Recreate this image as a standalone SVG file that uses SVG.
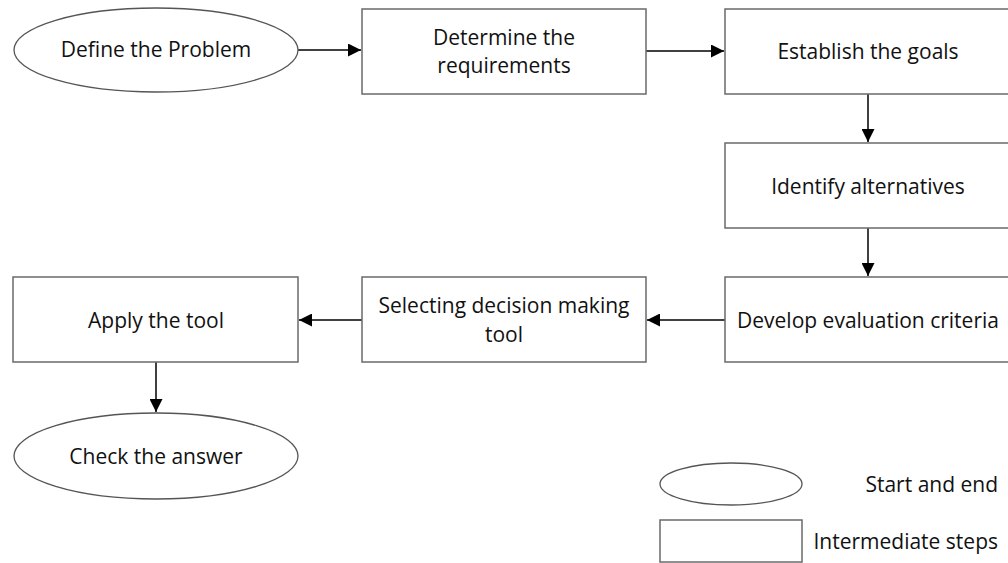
<svg xmlns="http://www.w3.org/2000/svg" width="1008" height="563" viewBox="0 0 1008 563">
<defs>
<marker id="arr" viewBox="0 0 10 10" refX="10" refY="5" markerWidth="13" markerHeight="13" markerUnits="userSpaceOnUse" orient="auto"><path d="M0,0 L10,5 L0,10 z" fill="#000"/></marker>
</defs>
<style>
.n{fill:#fff;stroke:#6a6a6a;stroke-width:1.5}
.e{fill:#fff;stroke:#555;stroke-width:1.3}
.t{font-family:"Open Sans","Liberation Sans",sans-serif;font-size:21px;fill:#111;text-anchor:middle;dominant-baseline:central}
.r{text-anchor:end}
.c{stroke:#000;stroke-width:1.5;fill:none;marker-end:url(#arr)}
</style>
<rect width="1008" height="563" fill="#fff"/>
<g id="connectors">
<line class="c" x1="298" y1="50" x2="361" y2="50"/>
<line class="c" x1="646" y1="51" x2="724" y2="51"/>
<line class="c" x1="868" y1="94" x2="868" y2="142"/>
<line class="c" x1="868" y1="228" x2="868" y2="276"/>
<line class="c" x1="725" y1="320" x2="647" y2="320"/>
<line class="c" x1="362" y1="320" x2="299" y2="320"/>
<line class="c" x1="156" y1="362" x2="156" y2="412"/>
</g>
<g id="define"><ellipse class="e" cx="156" cy="50" rx="142" ry="42"/><text class="t" x="156" y="49">Define the Problem</text></g>
<g id="determine"><rect class="n" x="362" y="9" width="284" height="85"/><text class="t" x="504" y="37">Determine the</text><text class="t" x="504" y="65">requirements</text></g>
<g id="establish"><rect class="n" x="725" y="9" width="290" height="85"/><text class="t" x="868" y="51">Establish the goals</text></g>
<g id="identify"><rect class="n" x="725" y="143" width="290" height="85"/><text class="t" x="868" y="186">Identify alternatives</text></g>
<g id="develop"><rect class="n" x="725" y="277" width="290" height="85"/><text class="t" x="868" y="320">Develop evaluation criteria</text></g>
<g id="selecting"><rect class="n" x="362" y="277" width="284" height="85"/><text class="t" x="504" y="305">Selecting decision making</text><text class="t" x="504" y="334">tool</text></g>
<g id="apply"><rect class="n" x="13" y="277" width="285" height="85"/><text class="t" x="156" y="320">Apply the tool</text></g>
<g id="check"><ellipse class="e" cx="156" cy="456" rx="142" ry="43"/><text class="t" x="156" y="456">Check the answer</text></g>
<g id="legend">
<ellipse class="e" cx="731" cy="484" rx="71" ry="21"/>
<text class="t r" x="998" y="484">Start and end</text>
<rect class="n" x="660" y="520" width="142" height="42"/>
<text class="t r" x="998" y="541">Intermediate steps</text>
</g>
</svg>
